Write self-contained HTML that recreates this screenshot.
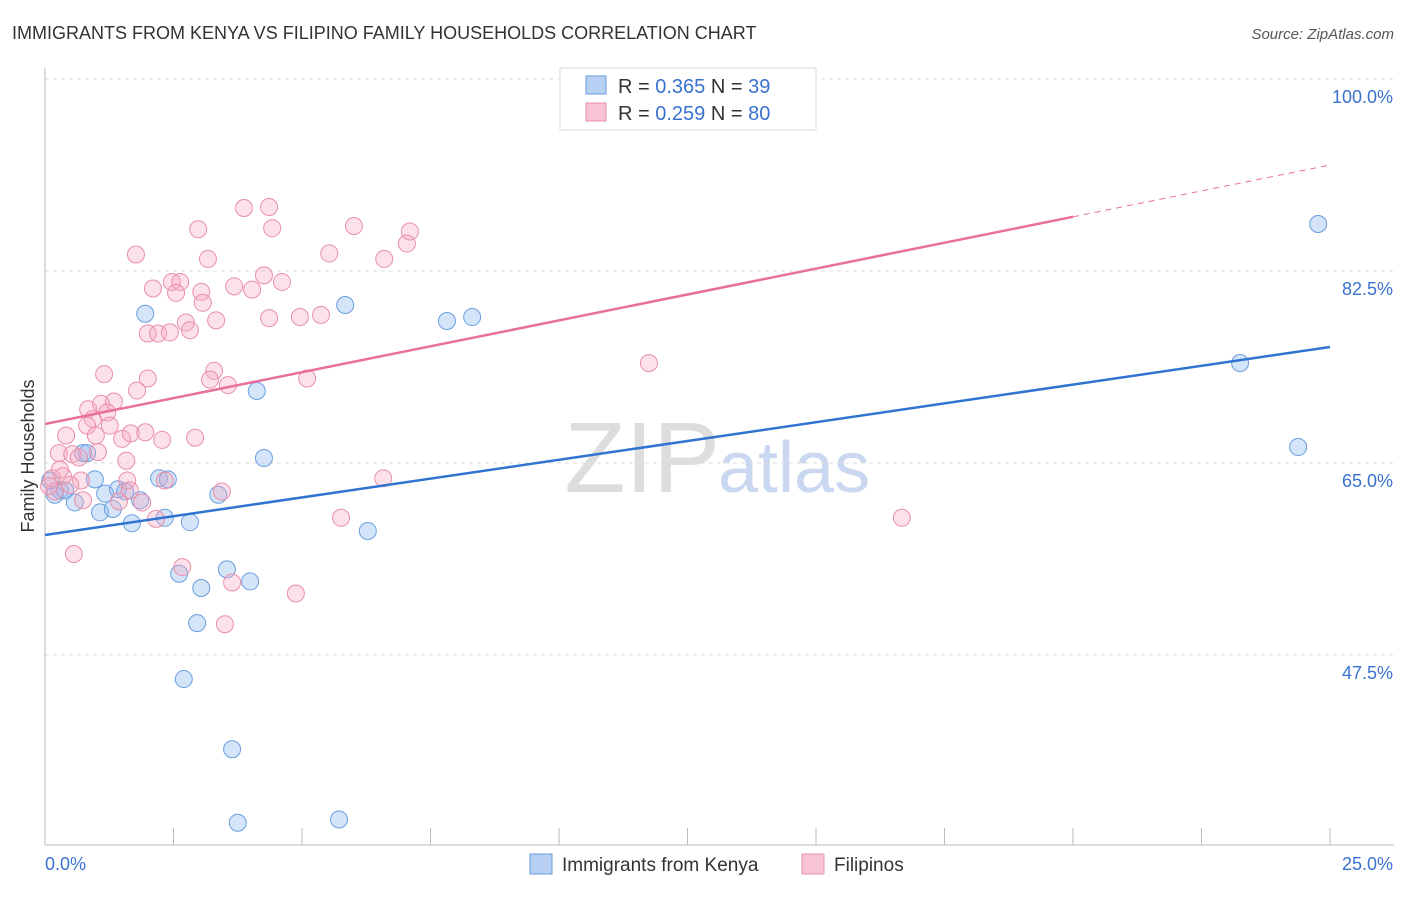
<!DOCTYPE html>
<html><head><meta charset="utf-8"><style>
body{margin:0;background:#fff;font-family:"Liberation Sans",sans-serif;}
svg text{font-family:"Liberation Sans",sans-serif;}
</style></head><body>
<svg id="chart" width="1406" height="892">
<text x="12" y="39" font-size="18" fill="#333">IMMIGRANTS FROM KENYA VS FILIPINO FAMILY HOUSEHOLDS CORRELATION CHART</text>
<text x="1394" y="39" font-size="15" fill="#555" font-style="italic" text-anchor="end">Source: ZipAtlas.com</text>
<text x="720" y="492" font-size="100" fill="#ddd" text-anchor="end" font-family="Liberation Serif">ZIP</text>
<text x="718" y="492" font-size="72" fill="#c9d8f0">atlas</text>
<g id="grid"></g><g id="axes"></g><g id="marks"></g>
<text x="34" y="456" font-size="18" fill="#333" transform="rotate(-90 34 456)" text-anchor="middle">Family Households</text>
<g>
<rect x="560" y="68" width="256" height="62" fill="#fff" stroke="#ddd"/>
<rect x="586" y="76" width="20" height="18" fill="#b8d0f4" stroke="#6a9ee0"/>
<rect x="586" y="103" width="20" height="18" fill="#f8c4d4" stroke="#e890a8"/>
<text x="618" y="93" font-size="20" fill="#333">R = <tspan fill="#3a72d0">0.365</tspan>   N = <tspan fill="#3a72d0"> 39</tspan></text>
<text x="618" y="120" font-size="20" fill="#333">R = <tspan fill="#3a72d0">0.259</tspan>   N = <tspan fill="#3a72d0">80</tspan></text>
</g>
<g>
<rect x="530" y="854" width="22" height="20" fill="#b8d0f4" stroke="#6a9ee0"/>
<text x="562" y="871" font-size="19" fill="#333">Immigrants from Kenya</text>
<rect x="802" y="854" width="22" height="20" fill="#f8c4d4" stroke="#e890a8"/>
<text x="834" y="871" font-size="19" fill="#333">Filipinos</text>
</g>
</svg>
<script>
const yTicks=[100,82.5,65,47.5];
const yTickLabels=["100.0%","82.5%","65.0%","47.5%"];
const xTicks=[0,2.5,5,7.5,10,12.5,15,17.5,20,22.5,25];
const xEndLabels=["0.0%","25.0%"];
const kenyaX=[24.77,23.25,24.38,5.84,7.82,8.31,1.95,4.12,4.26,2.22,2.39,3.37,0.97,0.74,0.82,0.29,0.19,0.39,0.58,1.17,1.42,1.56,1.85,1.07,1.32,1.69,2.33,2.82,6.28,2.61,3.54,3.99,3.04,2.96,2.7,3.64,3.75,5.72,0.1];
const kenyaY=[86.78,74.11,66.45,79.4,77.94,78.3,78.6,71.56,65.45,63.6,63.5,62.1,63.5,65.9,65.9,62.5,62.1,62.5,61.4,62.2,62.6,62.4,61.6,60.5,60.8,59.5,60.0,59.6,58.8,54.9,55.3,54.2,53.6,50.4,45.3,38.9,32.2,32.5,63.4];
const filX=[3.87,4.36,6.01,7.10,2.98,4.42,1.77,5.53,6.60,7.04,3.17,4.26,4.61,3.68,2.10,2.47,2.63,2.55,3.04,4.03,3.07,3.33,4.36,4.96,5.37,2.74,2.82,2.00,2.20,2.43,11.75,1.15,3.29,2.00,3.21,3.56,5.10,1.79,0.84,1.09,1.34,1.21,0.93,0.82,1.26,0.41,0.99,1.50,1.67,1.95,2.28,2.92,1.03,0.27,0.53,0.66,1.58,0.35,0.70,1.60,6.58,3.44,1.44,0.74,1.89,2.16,5.76,16.67,0.56,2.67,3.64,4.88,3.50,0.14,0.29,0.19,0.49,1.65,2.33,0.08];
const filY=[88.24,88.33,86.6,86.1,86.3,86.4,84.0,84.1,83.6,85.0,83.6,82.1,81.5,81.1,80.9,81.5,81.5,80.5,80.6,80.8,79.6,78.0,78.2,78.3,78.5,77.8,77.1,76.8,76.8,76.9,74.1,73.1,73.4,72.7,72.6,72.1,72.7,71.6,69.9,70.4,70.6,69.6,69.0,68.4,68.4,67.5,67.5,67.2,67.7,67.8,67.1,67.3,66.0,65.9,65.8,65.5,65.2,63.8,63.4,63.4,63.6,62.4,61.5,61.6,61.4,59.9,60.0,60.0,56.7,55.5,54.1,53.1,50.3,63.6,64.4,62.4,63.0,62.5,63.4,62.9];
const kenyaTrend=[58.43,75.57];
const filTrend=[68.55,92.16];
const filSolidEnd=20;

const NS="http://www.w3.org/2000/svg";
const xs=v=>45+v*51.4;
const ys=v=>79+(100-v)*10.97;
function mk(parent,tag,attrs){const e=document.createElementNS(NS,tag);for(const k in attrs)e.setAttribute(k,attrs[k]);document.getElementById(parent).appendChild(e);return e;}
yTicks.forEach((t,i)=>{
 const l=mk('grid','line',{x1:45,x2:1394,y1:ys(t),y2:ys(t),stroke:'#ddd','stroke-dasharray':'4,4'});
 
 
 const tx=mk('grid','text',{x:1393,y:ys(t)+24,'font-size':18,fill:'#3a72d0','text-anchor':'end'});
 tx.textContent=yTickLabels[i];
 
 
});
let a=mk('axes','line',{x1:45,x2:45,y1:68,y2:845,stroke:'#bbb'});


a=mk('axes','line',{x1:45,x2:1394,y1:845,y2:845,stroke:'#bbb'});


xTicks.forEach(t=>{
 const l=mk('axes','line',{x1:xs(t),x2:xs(t),y1:828,y2:845,stroke:'#bbb'});
 
 
});
let t0=mk('axes','text',{x:45,y:870,'font-size':18,fill:'#3a72d0'});t0.textContent=xEndLabels[0];


let t1=mk('axes','text',{x:1393,y:870,'font-size':18,fill:'#3a72d0','text-anchor':'end'});t1.textContent=xEndLabels[1];


kenyaX.forEach((x,i)=>{
 const c=mk('marks','circle',{cx:xs(x),cy:ys(kenyaY[i]),r:8.5,fill:'rgba(150,190,240,0.4)',stroke:'#6a9ee0','stroke-width':1});
 
 
});
filX.forEach((x,i)=>{
 const c=mk('marks','circle',{cx:xs(x),cy:ys(filY[i]),r:8.5,fill:'rgba(245,170,195,0.35)',stroke:'#e890a8','stroke-width':1});
 
 
});
let kl=mk('marks','line',{x1:xs(0),y1:ys(kenyaTrend[0]),x2:xs(25),y2:ys(kenyaTrend[1]),stroke:'#2f74d0','stroke-width':2.5});


const fy=x=>filTrend[0]+(filTrend[1]-filTrend[0])*x/25;
let fl=mk('marks','line',{x1:xs(0),y1:ys(fy(0)),x2:xs(filSolidEnd),y2:ys(fy(filSolidEnd)),stroke:'#e8709a','stroke-width':2.5});


let fd=mk('marks','line',{x1:xs(filSolidEnd),y1:ys(fy(filSolidEnd)),x2:xs(25),y2:ys(fy(25)),stroke:'#e8709a','stroke-width':1,'stroke-dasharray':'6,5'});


</script>
</body></html>
